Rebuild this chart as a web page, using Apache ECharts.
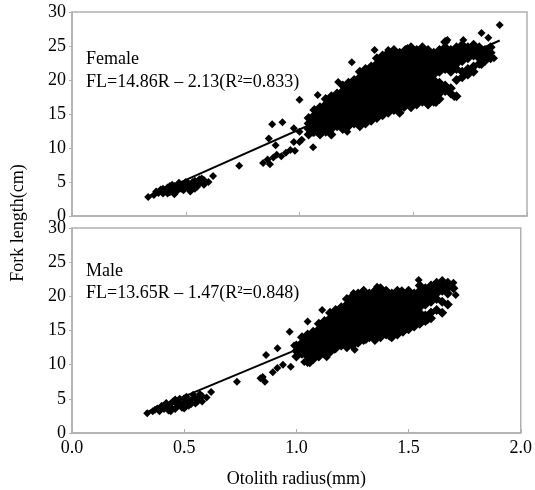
<!DOCTYPE html>
<html><head><meta charset="utf-8">
<script src="https://cdn.jsdelivr.net/npm/echarts@6/dist/echarts.min.js"></script>
<style>html,body{margin:0;padding:0;background:#fff}#c{width:535px;height:490px}</style>
</head><body><div id="c"></div>
<script>
// ---- axis settings ----
const xMin = 0, xMax = 2.0, xStep = 0.5;
const yMin = 0, yMax = 30, yStep = 5;
const xTitle = 'Otolith radius(mm)';
const yTitle = 'Fork length(cm)';
const femaleLabel = ['Female', 'FL=14.86R \u2013 2.13(R\u00b2=0.833)'];
const maleLabel = ['Male', 'FL=13.65R \u2013 1.47(R\u00b2=0.848)'];

// ---- regression line endpoints [R, FL] ----
const femaleLine = [[0.34, 2.92], [1.88, 25.81]];
const maleLine = [[0.34, 3.17], [1.70, 21.74]];

// ---- female points: small fish [R, FL] ----
const femaleSmall = [[0.335,2.8],[0.36,3.1],[0.38,3.4],[0.39,3.9],[0.40,3.3],[0.41,3.7],[0.42,4.2],[0.43,3.5],[0.44,3.9],[0.45,4.4],[0.46,3.6],[0.47,4.1],[0.48,4.6],[0.49,3.8],[0.50,4.3],[0.51,4.9],[0.52,4.0],[0.53,4.5],[0.54,5.2],[0.55,4.3],[0.56,4.8],[0.57,5.5],[0.58,4.6],[0.60,5.0],[0.62,5.9],[0.45,3.2],[0.52,3.6],[0.47,4.9],[0.43,4.4],
 [0.40,4.0],[0.44,4.6],[0.48,4.0],[0.53,5.0],[0.56,5.4],[0.50,5.0],[0.46,4.3],[0.42,3.3],[0.54,4.0],[0.58,5.3],[0.37,3.6],[0.49,4.6],[0.55,4.9],[0.51,4.2]];
// female scattered points (mid-size fish and cloud edges)
const femaleMid = [[0.735,7.4],[0.84,7.8],[0.86,8.3],[0.87,7.6],[0.885,8.6],[0.90,9.0],[0.92,8.8],[0.94,9.3],[0.96,9.7],[0.98,9.6],[0.865,11.4],[0.895,10.4],[0.88,13.5],[0.925,13.8],[1.0,10.9],[1.01,11.2],[1.06,12.2],[1.06,10.1],[0.975,10.9],[0.975,12.9],[1.0,12.4],[1.09,13.8],[1.0,17.1],[1.08,17.8],
 [1.23,22.6],[1.17,19.7],[1.33,24.4],[1.65,25.9],[1.72,25.9],[1.80,26.9],[1.83,26.2],[1.88,28.1],[1.855,23.2],[1.80,22.2],[1.68,17.5],[1.60,16.6],[1.46,15.9],[1.37,14.9],[1.27,13.4],[1.21,12.4],[1.14,11.9],[1.475,24.7],[1.39,24.4]];
// female dense body: [R, [FL values]]
const femaleCore = [
 [1.04,[12.0,12.8,13.6,14.4]],
 [1.065,[12.4,13.2,14.0,14.8,15.6]],
 [1.09,[12.0,12.8,13.6,14.4,15.2,16.0]],
 [1.115,[12.4,13.2,14.0,14.8,15.6,16.4,17.2]],
 [1.14,[12.0,12.8,13.6,14.4,15.2,16.0,16.8,17.6]],
 [1.165,[13.2,14.0,14.8,15.6,16.4,17.2,18.0]],
 [1.19,[12.8,13.6,14.4,15.2,16.0,16.8,17.6,18.4,19.2]],
 [1.215,[13.2,14.0,14.8,15.6,16.4,17.2,18.0,18.8,19.6]],
 [1.24,[13.6,14.4,15.2,16.0,16.8,17.6,18.4,19.2,20.0]],
 [1.265,[13.2,14.0,14.8,15.6,16.4,17.2,18.0,18.8,19.6,20.4,21.2]],
 [1.29,[13.6,14.4,15.2,16.0,16.8,17.6,18.4,19.2,20.0,20.8,21.6]],
 [1.315,[14.0,14.8,15.6,16.4,17.2,18.0,18.8,19.6,20.4,21.2,22.0]],
 [1.34,[14.4,15.2,16.0,16.8,17.6,18.4,19.2,20.0,20.8,21.6,22.4,23.2]],
 [1.365,[14.8,15.6,16.4,17.2,18.0,18.8,19.6,20.4,21.2,22.0,22.8,23.6]],
 [1.39,[15.2,16.0,16.8,17.6,18.4,19.2,20.0,20.8,21.6,22.4,23.2,24.0]],
 [1.415,[15.6,16.4,17.2,18.0,18.8,19.6,20.4,21.2,22.0,22.8,23.6,24.4]],
 [1.44,[15.2,16.0,16.8,17.6,18.4,19.2,20.0,20.8,21.6,22.4,23.2,24.0]],
 [1.465,[16.4,17.2,18.0,18.8,19.6,20.4,21.2,22.0,22.8,23.6,24.4]],
 [1.49,[16.0,16.8,17.6,18.4,19.2,20.0,20.8,21.6,22.4,23.2,24.0,24.8]],
 [1.515,[16.4,17.2,18.0,18.8,19.6,20.4,21.2,22.0,22.8,23.6,24.4]],
 [1.54,[16.8,17.6,18.4,19.2,20.0,20.8,21.6,22.4,23.2,24.0,24.8]],
 [1.565,[16.4,17.2,18.0,18.8,19.6,20.4,21.2,22.0,22.8,23.6,24.4]],
 [1.59,[16.8,17.6,18.4,19.2,20.0,20.8,21.6,22.4,23.2,24.0]],
 [1.615,[17.2,18.0,18.8,19.6,21.2,22.0,22.8,23.6,24.4]],
 [1.64,[18.4,19.2,21.6,22.4,23.2,24.0,24.8,25.6]],
 [1.665,[18.0,18.8,21.2,22.0,22.8,23.6,24.4]],
 [1.69,[17.6,20.0,21.6,22.4,23.2,24.0,24.8]],
 [1.715,[20.4,21.2,22.8,23.6,24.4,25.2]],
 [1.74,[20.8,21.6,23.2,24.0,24.8]],
 [1.765,[21.2,22.0,23.6,24.4,25.2]],
 [1.79,[22.4,23.2,24.0,24.8]],
 [1.815,[22.8,23.6,24.4]],
 [1.84,[23.2,24.0,24.8]]
];

// ---- male points ----
const maleSmall = [[0.335,2.9],[0.36,3.2],[0.38,3.6],[0.39,3.2],[0.40,4.0],[0.41,3.5],[0.42,4.4],[0.43,3.3],[0.44,3.8],[0.45,4.6],[0.46,3.5],[0.47,4.2],[0.48,5.0],[0.49,3.7],[0.50,4.5],[0.51,5.3],[0.52,4.0],[0.53,4.8],[0.54,5.6],[0.55,4.3],[0.56,5.1],[0.57,5.7],[0.58,4.6],[0.60,5.2],[0.62,6.0],[0.44,3.2],[0.50,3.6],[0.46,4.9],[0.42,3.9],
 [0.40,3.7],[0.44,4.3],[0.48,4.4],[0.52,4.7],[0.55,5.0],[0.50,5.1],[0.47,3.9],[0.43,4.0],[0.53,4.2],[0.58,5.4],[0.37,3.4],[0.49,4.1],[0.56,4.6],[0.51,4.6]];
const maleMid = [[0.735,7.5],[0.84,8.0],[0.85,8.2],[0.86,7.5],[0.865,11.4],[0.895,8.9],[0.915,9.5],[0.916,12.4],[0.94,10.0],[0.975,9.7],[0.97,14.8],[0.99,12.8],[1.035,10.4],[1.04,14.1],[1.05,16.3],[1.115,18.0],[1.135,11.1],[1.17,12.2],
 [1.255,20.5],[1.36,21.4],[1.545,22.4],[1.65,22.4],[1.70,22.0],[1.71,20.2],[1.26,12.2],[1.31,13.6],[1.415,14.1],[1.50,15.4],[1.585,16.5],[1.60,17.7],[1.06,10.2],[1.15,11.7],[1.225,12.4],[1.47,20.9]];
const maleCore = [
 [1.00,[11.2,12.0,12.8]],
 [1.025,[11.6,12.4,13.2,14.0]],
 [1.05,[10.4,11.2,12.0,12.8,13.6,14.4]],
 [1.075,[10.8,11.6,12.4,13.2,14.0,14.8]],
 [1.10,[11.2,12.0,12.8,13.6,14.4,15.2,16.0]],
 [1.125,[11.6,12.4,13.2,14.0,14.8,15.6,16.4]],
 [1.15,[12.0,12.8,13.6,14.4,15.2,16.0,16.8,17.6]],
 [1.175,[12.4,13.2,14.0,14.8,15.6,16.4,17.2,18.0]],
 [1.20,[12.8,13.6,14.4,15.2,16.0,16.8,17.6,18.4]],
 [1.225,[13.2,14.0,14.8,15.6,16.4,17.2,18.0,18.8,19.6]],
 [1.25,[12.8,13.6,14.4,15.2,16.0,16.8,17.6,18.4,19.2,20.0]],
 [1.275,[13.2,14.0,14.8,15.6,16.4,17.2,18.0,18.8,19.6,20.4]],
 [1.30,[13.6,14.4,15.2,16.0,16.8,17.6,18.4,19.2,20.0,20.8]],
 [1.325,[14.0,14.8,15.6,16.4,17.2,18.0,18.8,19.6,20.4]],
 [1.35,[13.6,14.4,15.2,16.0,16.8,17.6,18.4,19.2,20.0,20.8]],
 [1.375,[14.0,14.8,15.6,16.4,17.2,18.0,18.8,19.6,20.4,21.2]],
 [1.40,[14.4,15.2,16.0,16.8,17.6,18.4,19.2,20.0,20.8]],
 [1.425,[14.0,14.8,15.6,16.4,17.2,18.0,18.8,19.6,20.4]],
 [1.45,[14.4,15.2,16.0,16.8,17.6,18.4,19.2,20.0,20.8]],
 [1.475,[14.8,15.6,16.4,17.2,18.0,18.8,19.6,20.4]],
 [1.50,[15.2,16.0,16.8,17.6,18.4,19.2,20.0,20.8]],
 [1.525,[15.6,16.4,17.2,18.0,18.8,19.6,20.4]],
 [1.55,[16.0,16.8,17.6,18.4,19.2,20.0,20.8,21.6]],
 [1.575,[16.4,17.2,18.8,19.6,20.4,21.2]],
 [1.60,[16.8,17.6,19.2,20.0,20.8,21.6]],
 [1.625,[18.0,19.6,20.4,21.2,22.0]],
 [1.65,[17.6,19.2,20.8,21.6]],
 [1.675,[18.8,20.4,21.2,22.0]],
 [1.70,[21.2]]
];

function flatten(cols) {
  const out = [];
  cols.forEach(c => c[1].forEach(v => out.push([c[0], v])));
  return out;
}
const femaleLoose = femaleSmall.concat(femaleMid);
const maleLoose = maleSmall.concat(maleMid);
const femaleDense = flatten(femaleCore);
const maleDense = flatten(maleCore);

const FONT = '"Liberation Serif", "Times New Roman", serif';
const FS = 18;
const axisGray = '#b0b0b0';

function xAxis(idx, showLabels) {
  return {
    type: 'value', gridIndex: idx, min: xMin, max: xMax, interval: xStep,
    axisLine: { show: true, lineStyle: { color: axisGray, width: 1.5 } },
    axisTick: { show: true, inside: true, length: 4, lineStyle: { color: axisGray } },
    splitLine: { show: false },
    axisLabel: { show: showLabels, margin: 6, color: '#000', fontFamily: FONT, fontSize: FS,
      formatter: v => v.toFixed(1) },
    name: showLabels ? xTitle : '', nameLocation: 'middle', nameGap: 37,
    nameTextStyle: { color: '#000', fontFamily: FONT, fontSize: FS }
  };
}
function yAxis(idx) {
  return {
    type: 'value', gridIndex: idx, min: yMin, max: yMax, interval: yStep,
    axisLine: { show: true, lineStyle: { color: axisGray, width: 1.5 } },
    axisTick: { show: true, inside: false, length: 3, lineStyle: { color: axisGray } },
    splitLine: { show: false },
    axisLabel: { margin: 6, color: '#000', fontFamily: FONT, fontSize: FS }
  };
}
function scatter(idx, data, size) {
  return { type: 'scatter', xAxisIndex: idx, yAxisIndex: idx, data: data,
    symbol: 'diamond', symbolSize: size, itemStyle: { color: '#000', opacity: 1 },
    silent: true, animation: false, large: false };
}
function line(idx, data) {
  return { type: 'line', xAxisIndex: idx, yAxisIndex: idx, data: data, showSymbol: false,
    symbol: 'none', lineStyle: { color: '#000', width: 2 }, silent: true, animation: false, z: 3 };
}
function label(text, top) {
  return { type: 'text', left: 86, top: top, style: { text: text, font: FS + 'px ' + FONT, fill: '#000' } };
}

const chart = echarts.init(document.getElementById('c'), null, { renderer: 'canvas' });
chart.setOption({
  backgroundColor: '#fff',
  animation: false,
  grid: [
    { left: 72, right: 8, top: 12, height: 204, show: true, borderColor: axisGray, borderWidth: 1.5 },
    { left: 72, right: 8, top: 228, height: 205, show: true, borderColor: axisGray, borderWidth: 1.5 }
  ],
  xAxis: [xAxis(0, false), xAxis(1, true)],
  yAxis: [yAxis(0), yAxis(1)],
  series: [
    scatter(0, femaleDense, 10), scatter(0, femaleLoose, 8), line(0, femaleLine),
    scatter(1, maleDense, 10), scatter(1, maleLoose, 8), line(1, maleLine)
  ],
  graphic: [
    label(femaleLabel[0], 50), label(femaleLabel[1], 73),
    label(maleLabel[0], 262), label(maleLabel[1], 284),
    { type: 'text', rotation: Math.PI / 2, x: 18, y: 223,
      style: { text: yTitle, font: FS + 'px ' + FONT, fill: '#000', textAlign: 'center', textVerticalAlign: 'middle' } }
  ]
});
</script></body></html>
